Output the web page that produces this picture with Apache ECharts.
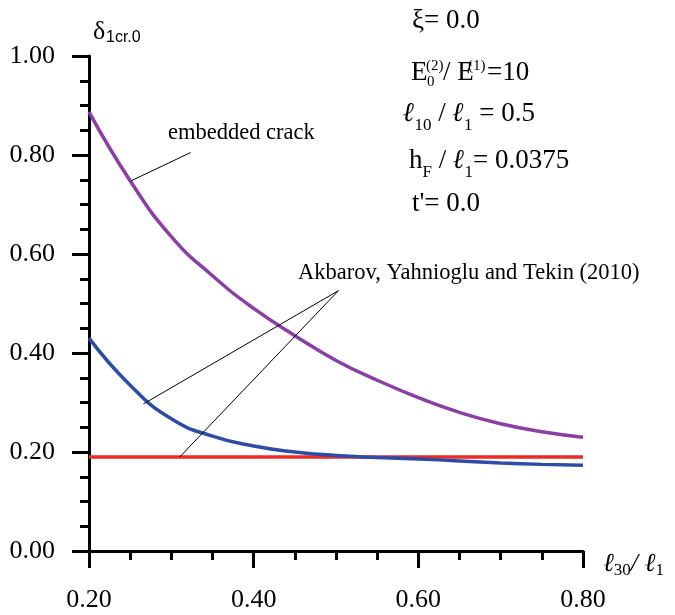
<!DOCTYPE html>
<html><head><meta charset="utf-8">
<script src="https://cdn.jsdelivr.net/npm/echarts@6/dist/echarts.min.js"></script>
<style>html,body{margin:0;padding:0;background:#fff}#c{width:675px;height:615px}</style>
</head><body><div id="c"></div>
<script>
// ---- data ----
const xValues      = [0.20, 0.25, 0.30, 0.35, 0.40, 0.45, 0.50, 0.55, 0.60, 0.65, 0.70, 0.75, 0.80];
const embeddedCrack = [0.887, 0.748, 0.635, 0.556, 0.490, 0.435, 0.385, 0.345, 0.310, 0.280, 0.257, 0.241, 0.230];
const akbarovCurve  = [0.430, 0.335, 0.267, 0.232, 0.212, 0.200, 0.193, 0.189, 0.186, 0.182, 0.178, 0.175, 0.173];
const akbarovLine   = [0.190, 0.190, 0.190, 0.190, 0.190, 0.190, 0.190, 0.190, 0.190, 0.190, 0.190, 0.190, 0.190];
// leader lines (data coordinates)
const leaderEmbedded = [[0.3235, 0.805], [0.2507, 0.7475]];
const leaderAkbarovA = [[0.503, 0.526], [0.266, 0.297]];
const leaderAkbarovB = [[0.503, 0.526], [0.3105, 0.1905]];

const serif = 'Liberation Serif';
const sans = 'Liberation Sans';
const pair = (xs, ys) => xs.map((x, i) => [x, ys[i]]);
const seg = s => [{coord: s[0]}, {coord: s[1]}];

const chart = echarts.init(document.getElementById('c'));
const axisCommon = {
  type: 'value',
  axisLine: {onZero: false, lineStyle: {color: '#000', width: 3}},
  axisTick: {length: 17, lineStyle: {color: '#000', width: 3}},
  minorTick: {show: true, splitNumber: 4, length: 9, lineStyle: {color: '#000', width: 3}},
  splitLine: {show: false},
  minorSplitLine: {show: false}
};
function txt(x, y, text, size, family) {
  return {type: 'text', x: x, y: y, silent: true,
    style: {text: text, fontSize: size, fontFamily: family || serif, fill: '#000', align: 'left', verticalAlign: 'middle'}};
}
function rich(x, y, text, richDef, L) {
  return {type: 'text', x: x, y: y, silent: true,
    style: {text: text, fontSize: 27, fontFamily: serif, fill: '#000', align: 'left', verticalAlign: 'middle', lineHeight: L, rich: richDef}};
}
const R = {
  n: {fontSize: 27, fontFamily: serif, lineHeight: 40, fill: '#000'},
  l: {fontSize: 27, fontFamily: serif, fontStyle: 'italic', fontWeight: 'bold', lineHeight: 40, fill: '#000'},
  s13: {fontSize: 17, fontFamily: serif, lineHeight: 14, verticalAlign: 'bottom', fill: '#000'},
  s8: {fontSize: 17, fontFamily: serif, lineHeight: 24, verticalAlign: 'bottom', fill: '#000'},
  s5: {fontSize: 17, fontFamily: serif, lineHeight: 30, verticalAlign: 'bottom', fill: '#000'}
};
const RX = {
  n: {fontSize: 26, fontFamily: serif, fontStyle: 'italic', lineHeight: 30, fill: '#000'},
  s: {fontSize: 17, fontFamily: serif, lineHeight: 16, verticalAlign: 'bottom', fill: '#000'}
};

chart.setOption({
  animation: false,
  grid: {left: 89, top: 56, width: 494, height: 495},
  xAxis: Object.assign({}, axisCommon, {
    min: 0.2, max: 0.8, interval: 0.2,
    axisLabel: {margin: 36, fontSize: 26, fontFamily: serif, color: '#000', showMinLabel: true, showMaxLabel: true,
      formatter: v => v.toFixed(2)}
  }),
  yAxis: Object.assign({}, axisCommon, {
    min: 0, max: 1, interval: 0.2,
    axisLabel: {margin: 34, fontSize: 26, fontFamily: serif, color: '#000', showMinLabel: true, showMaxLabel: true,
      formatter: v => v.toFixed(2)}
  }),
  series: [
    {type: 'line', name: 'Akbarov line', data: pair(xValues, akbarovLine), showSymbol: false,
      lineStyle: {color: '#ee2a24', width: 3.5}, silent: true,
      markLine: {silent: true, symbol: ['none', 'none'], label: {show: false},
        lineStyle: {color: '#000', width: 1, type: 'solid'},
        data: [seg(leaderEmbedded), seg(leaderAkbarovA), seg(leaderAkbarovB)]}},
    {type: 'line', name: 'Akbarov curve', data: pair(xValues, akbarovCurve), showSymbol: false,
      smooth: 0.5, lineStyle: {color: '#2d4ca8', width: 3.5}, silent: true},
    {type: 'line', name: 'embedded crack', data: pair(xValues, embeddedCrack), showSymbol: false,
      smooth: 0.5, lineStyle: {color: '#8a3ea6', width: 3.5}, silent: true}
  ],
  graphic: [
    // y axis name
    txt(93, 32, 'δ', 26),
    txt(106, 38, '1cr.0', 16, sans),
    // x axis name
    {type: 'text', x: 603, y: 564, silent: true,
      style: {text: '{n|ℓ}{s|30}{n|/ ℓ}{s|1}', fill: '#000', align: 'left', verticalAlign: 'middle', rich: RX}},
    // annotations
    txt(168, 133, 'embedded crack', 22.5),
    txt(298, 273, 'Akbarov, Yahnioglu and Tekin (2010)', 22.5),
    // parameter block
    txt(412, 21, 'ξ= 0.0', 27),
    txt(411, 73, 'E', 27),
    txt(426, 66, '(2)', 15),
    txt(427, 82, '0', 15),
    txt(443, 73, '/ E', 27),
    txt(468, 66, '(1)', 15),
    txt(487, 73, '=10', 27),
    rich(403, 114, '{l|ℓ}{s13|10}{n| / }{l|ℓ}{s8|1}{n| = 0.5}', R, 40),
    rich(409, 161, '{n|h}{s5|F}{n| / }{l|ℓ}{s5|1}{n|= 0.0375}', R, 40),
    txt(412, 204, "t'= 0.0", 27)
  ]
});
</script>
</body></html>
